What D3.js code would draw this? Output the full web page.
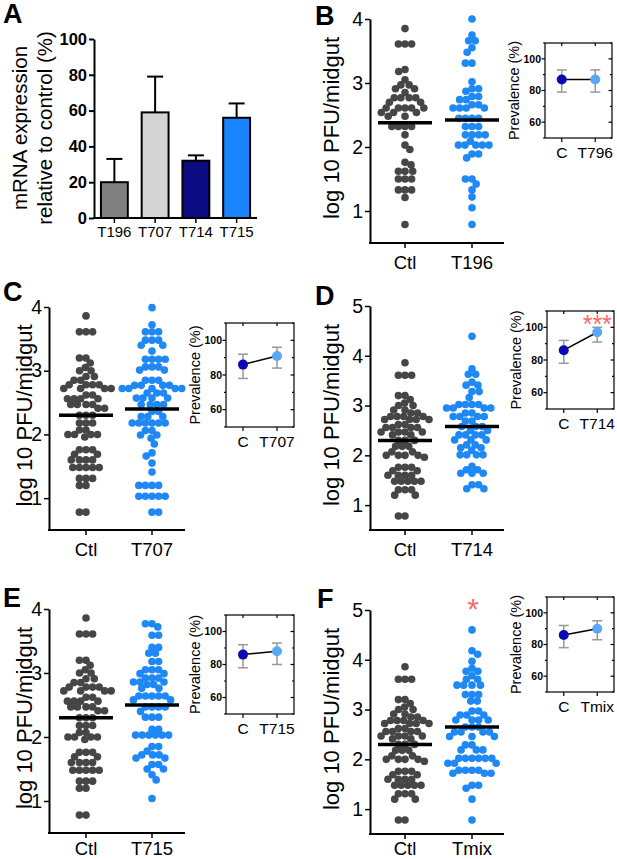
<!DOCTYPE html>
<html>
<head>
<meta charset="utf-8">
<script src="https://cdn.jsdelivr.net/npm/d3@7"></script>
<style>
body { margin: 0; background: #fff; }
svg { display: block; font-family: "Liberation Sans", Arial, sans-serif; }
</style>
</head>
<body>
<script>
// ---- panel A: knockdown ----
const bar_genes = ["T196", "T707", "T714", "T715"];
const bar_values = [20, 59, 32, 56];
const bar_sem = [13, 20, 3, 8];
const bar_colors = ["#808080", "#d4d4d4", "#0b0b84", "#1a84ff"];
const bar_ticks = [0, 20, 40, 60, 80, 100];

// ---- scatter data (log10 PFU / midgut) ----
const ctl_b = [3.85, 3.61, 3.61, 3.61, 3.21, 3.18, 3.05, 2.97, 2.97, 2.91, 2.91, 2.85,
  2.77, 2.77, 2.77, 2.77, 2.70, 2.70, 2.61, 2.61, 2.61, 2.61, 2.61, 2.54, 2.54, 2.54,
  2.48, 2.48, 2.32, 2.32, 2.32, 2.32, 2.19, 2.03, 1.96, 1.76, 1.72, 1.62, 1.62, 1.62,
  1.50, 1.50, 1.50, 1.33, 1.33, 1.33, 1.21, 0.79];
const t196 = [4.00, 3.75, 3.66, 3.66, 3.55, 3.48, 3.31, 3.31, 3.02, 2.91, 2.91, 2.87,
  2.79, 2.79, 2.74, 2.74, 2.66, 2.66, 2.61, 2.61, 2.61, 2.61, 2.45, 2.45, 2.45, 2.45,
  2.32, 2.32, 2.32, 2.19, 2.19, 2.19, 2.19, 2.09, 2.03, 2.03, 2.03, 2.03, 2.03,
  1.89, 1.89, 1.83, 1.50, 1.50, 1.42, 1.33, 1.22, 1.05, 0.79];
// same control group is used in C-F
const ctl_all = [3.86, 3.61, 3.61, 3.61, 3.20, 3.20, 3.12, 3.05, 3.00, 3.00, 2.91, 2.91,
  2.85, 2.85, 2.78, 2.78, 2.78, 2.78, 2.72, 2.72, 2.72, 2.72, 2.62, 2.62,
  2.56, 2.56, 2.56, 2.56, 2.47, 2.47, 2.47, 2.47, 2.41, 2.41, 2.30, 2.30, 2.30,
  2.18, 2.18, 2.18, 2.07, 2.07, 2.00, 2.00, 2.00, 2.00, 1.96, 1.76, 1.76, 1.76,
  1.69, 1.69, 1.60, 1.60, 1.60, 1.60, 1.48, 1.48, 1.48, 1.48, 1.48,
  1.31, 1.31, 1.31, 1.20, 1.20, 0.78, 0.78];
const t707 = [3.99, 3.72, 3.61, 3.61, 3.61, 3.48, 3.48, 3.48, 3.40, 3.40, 3.31,
  3.18, 3.18, 3.18, 3.18, 3.06, 3.06, 3.06, 3.01, 3.01, 2.85, 2.85, 2.85,
  2.77, 2.77, 2.77, 2.77, 2.72, 2.72, 2.72, 2.72, 2.72, 2.65, 2.65, 2.65,
  2.57, 2.57, 2.57, 2.57, 2.47, 2.47, 2.47, 2.47, 2.36, 2.36, 2.28, 2.28, 2.28,
  2.18, 2.18, 2.18, 2.18, 2.18, 2.18, 2.06, 2.06, 1.99, 1.99, 1.94, 1.85, 1.71, 1.66,
  1.55, 1.41, 1.20, 1.20, 1.20, 1.20, 1.03, 1.03, 1.03, 1.03, 1.03, 0.78, 0.78];
const t714 = [4.39, 3.74, 3.63, 3.63, 3.47, 3.41, 3.41, 3.28, 3.28, 3.16,
  3.02, 3.02, 3.02, 3.02, 2.95, 2.95, 2.95, 2.95, 2.85, 2.85, 2.78, 2.78, 2.78, 2.78,
  2.69, 2.69, 2.58, 2.58, 2.58, 2.50, 2.50, 2.41, 2.41, 2.41, 2.41, 2.31, 2.31, 2.31,
  2.21, 2.21, 2.15, 2.15, 2.10, 2.01, 2.01, 2.01, 2.01, 1.78, 1.71, 1.71,
  1.64, 1.64, 1.64, 1.41, 1.41, 1.33, 1.33];
const t715 = [3.77, 3.77, 3.72, 3.59, 3.59, 3.40, 3.40, 3.31, 3.31, 3.18, 3.18,
  3.05, 3.05, 3.05, 2.99, 2.99, 2.92, 2.92, 2.92, 2.86, 2.86, 2.86, 2.82, 2.82,
  2.76, 2.76, 2.64, 2.64, 2.64, 2.64, 2.64, 2.58, 2.58, 2.47, 2.47, 2.47, 2.47, 2.40,
  2.31, 2.31, 2.31, 2.12, 2.12, 2.03, 2.03, 2.03, 2.03, 2.03, 2.03, 1.85, 1.85, 1.78,
  1.72, 1.72, 1.72, 1.67, 1.67, 1.57, 1.57, 1.50, 1.50, 1.41, 1.33, 1.04];
const tmix = [4.60, 4.18, 4.11, 3.97, 3.83, 3.77, 3.77, 3.68, 3.61, 3.61,
  3.49, 3.49, 3.49, 3.49, 3.30, 3.30, 3.30, 3.17, 3.17, 2.97, 2.97, 2.89, 2.89, 2.89,
  2.79, 2.79, 2.79, 2.79, 2.65, 2.65, 2.65, 2.55, 2.55, 2.55, 2.55, 2.46, 2.46, 2.46,
  2.29, 2.29, 2.19, 2.19, 2.19, 2.02, 2.02, 2.02, 2.02, 2.02, 2.02, 1.92, 1.92, 1.92,
  1.78, 1.78, 1.78, 1.78, 1.72, 1.72, 1.72, 1.48, 1.48, 1.42, 1.20, 0.78];

// horizontal lines drawn in each scatter [ctl, treated]
const medians_b = [2.38, 2.42];
const medians_c = [2.30, 2.40];
const medians_d = [2.30, 2.58];
const medians_e = [2.30, 2.50];
const medians_f = [2.30, 2.65];

// prevalence insets [C, treated] in %
const prev_b = [87, 87], prev_lo_b = [79, 79], prev_hi_b = [93, 93];
const prev_c = [86, 91], prev_lo_c = [78, 84], prev_hi_c = [92, 96];
const prev_d = [86, 97], prev_lo_d = [78, 91], prev_hi_d = [92, 100];
const prev_e = [86, 88], prev_lo_e = [78, 80], prev_hi_e = [92, 93];
const prev_f = [86, 90], prev_lo_f = [78, 83], prev_hi_f = [92, 95];

const c_ctl = "#464646", c_trt = "#1e88f5";
const c_prev = ["#0a0ab4", "#5aa8f5"];
const c_star = "#f26b6b";

const svg = d3.select("body").append("svg")
    .attr("width", 617)
    .attr("height", 859);

function letter(t, x, y) {
    svg.append("text").attr("x", x).attr("y", y)
        .attr("font-size", 27).attr("font-weight", "bold").text(t);
}

// ---------------- A ----------------
function drawBars() {
    const x = d3.scaleBand().domain(bar_genes).range([94, 257])
        .paddingInner(0.34).paddingOuter(0.17);
    const y = d3.scaleLinear().domain([0, 100]).range([218, 39]);
    const g = svg.append("g");

    // error bars first (only upward)
    g.selectAll(".err").data(bar_genes).enter().append("g").each(function(d, i) {
        const cx = x(d) + x.bandwidth() / 2;
        const top = y(bar_values[i] + bar_sem[i]);
        d3.select(this).append("line").attr("x1", cx).attr("x2", cx)
            .attr("y1", y(bar_values[i])).attr("y2", top)
            .attr("stroke", "#000").attr("stroke-width", 2);
        d3.select(this).append("line").attr("x1", cx - 8).attr("x2", cx + 8)
            .attr("y1", top).attr("y2", top)
            .attr("stroke", "#000").attr("stroke-width", 2);
    });

    g.selectAll(".bar").data(bar_values).enter().append("rect")
        .attr("x", (d, i) => x(bar_genes[i]))
        .attr("y", d => y(d))
        .attr("width", x.bandwidth())
        .attr("height", d => y(0) - y(d))
        .attr("fill", (d, i) => bar_colors[i])
        .attr("stroke", "#000").attr("stroke-width", 2);

    const ya = g.append("g").attr("transform", "translate(94,0)")
        .call(d3.axisLeft(y).tickValues(bar_ticks).tickSize(5).tickSizeOuter(0).tickPadding(2));
    ya.select(".domain").attr("stroke-width", 2);
    ya.selectAll(".tick line").attr("stroke-width", 2);
    ya.selectAll("text").attr("font-size", 16.5).attr("font-weight", "bold")
        .attr("fill", "#000").attr("font-family", "Liberation Sans, Arial, sans-serif");

    g.append("line").attr("x1", 93).attr("x2", 257).attr("y1", 218).attr("y2", 218)
        .attr("stroke", "#000").attr("stroke-width", 2);
    bar_genes.forEach(function(d) {
        const cx = x(d) + x.bandwidth() / 2;
        g.append("line").attr("x1", cx).attr("x2", cx).attr("y1", 218).attr("y2", 223)
            .attr("stroke", "#000").attr("stroke-width", 1.5);
        g.append("text").attr("x", cx).attr("y", 237).attr("text-anchor", "middle")
            .attr("font-size", 15).text(d);
    });

    const lab = g.append("text").attr("transform", "translate(27,128) rotate(-90)")
        .attr("text-anchor", "middle").attr("font-size", 20.5);
    lab.append("tspan").attr("x", 0).attr("y", 0).text("mRNA expression");
    lab.append("tspan").attr("x", 0).attr("y", 25).text("relative to control (%)");
}

// simple beeswarm: place each dot as close to centre as possible
function swarm(vals, y, d) {
    const pts = vals.map(v => ({v: v, y: y(v), x: 0})).sort((a, b) => b.v - a.v);
    const placed = [];
    pts.forEach(function(p, k) {
        const cands = [0];
        placed.forEach(function(q) {
            const dy = Math.abs(q.y - p.y);
            if (dy < d) {
                const dx = Math.sqrt(d * d - dy * dy);
                cands.push(q.x + dx, q.x - dx);
            }
        });
        cands.sort((a, b) => (Math.abs(a) - Math.abs(b)) || (k % 2 ? a - b : b - a));
        for (const c of cands) {
            if (placed.every(q => (q.x - c) * (q.x - c) + (q.y - p.y) * (q.y - p.y) >= d * d - 0.01)) {
                p.x = c;
                break;
            }
        }
        placed.push(p);
    });
    return placed;
}

function drawScatter(p) {
    const g = svg.append("g");
    const y = d3.scaleLinear().domain([0.5, p.ymax]).range([p.bottom, p.top]);
    const x = d3.scalePoint().domain(p.groups).range(p.cx);

    [p.ctl, p.trt].forEach(function(vals, i) {
        const pts = swarm(vals, y, 6.6);
        g.selectAll(null).data(pts).enter().append("circle")
            .attr("cx", d => x(p.groups[i]) + d.x)
            .attr("cy", d => d.y)
            .attr("r", 3.8)
            .attr("fill", i == 0 ? c_ctl : c_trt);
    });

    g.selectAll(".med").data(p.med).enter().append("line")
        .attr("x1", (d, i) => x(p.groups[i]) - 27)
        .attr("x2", (d, i) => x(p.groups[i]) + 27)
        .attr("y1", d => y(d)).attr("y2", d => y(d))
        .attr("stroke", "#000").attr("stroke-width", 3.5);

    const ya = g.append("g").attr("transform", `translate(${p.axisX},0)`)
        .call(d3.axisLeft(y).tickValues(d3.range(1, p.ymax + 1)).tickFormat(d3.format("d"))
            .tickSize(5).tickSizeOuter(0).tickPadding(2));
    ya.select(".domain").attr("stroke-width", 2);
    ya.selectAll(".tick line").attr("stroke-width", 1.5);
    ya.selectAll("text").attr("font-size", 19.5).attr("fill", "#000")
        .attr("font-family", "Liberation Sans, Arial, sans-serif");

    g.append("line").attr("x1", p.axisX - 1).attr("x2", p.xEnd)
        .attr("y1", p.bottom).attr("y2", p.bottom)
        .attr("stroke", "#000").attr("stroke-width", 2);
    p.groups.forEach(function(d) {
        g.append("line").attr("x1", x(d)).attr("x2", x(d))
            .attr("y1", p.bottom).attr("y2", p.bottom + 5)
            .attr("stroke", "#000").attr("stroke-width", 1.5);
        g.append("text").attr("x", x(d)).attr("y", p.labY || p.bottom + 26)
            .attr("text-anchor", "middle").attr("font-size", 18.5).text(d);
    });

    g.append("text")
        .attr("transform", `translate(${p.labX},${(p.top + p.bottom) / 2 - 3}) rotate(-90)`)
        .attr("text-anchor", "middle").attr("font-size", 22)
        .text("log 10 PFU/midgut");

    if (p.star) {
        g.append("text").attr("x", x(p.groups[1]) + 1).attr("y", p.top + 9)
            .attr("text-anchor", "middle").attr("font-size", 30)
            .attr("fill", c_star).text(p.star);
    }
}

function drawInset(p) {
    const g = svg.append("g");
    const y = d3.scaleLinear().domain([50, 110]).range([p.y1, p.y0]);
    const x = d3.scalePoint().domain(["C", p.name]).range([p.x0, p.x1]).padding(0.5);
    const names = ["C", p.name];

    g.append("rect").attr("x", p.x0).attr("y", p.y0)
        .attr("width", p.x1 - p.x0).attr("height", p.y1 - p.y0)
        .attr("fill", "none").attr("stroke", "#000").attr("stroke-width", 1.2);

    [50, 60, 70, 80, 90, 100, 110].forEach(function(v) {
        const len = v % 20 == 0 ? 3.5 : 2;
        g.append("line").attr("x1", p.x0 - len).attr("x2", p.x0)
            .attr("y1", y(v)).attr("y2", y(v)).attr("stroke", "#000").attr("stroke-width", 1.2);
        g.append("line").attr("x1", p.x1 - len).attr("x2", p.x1)
            .attr("y1", y(v)).attr("y2", y(v)).attr("stroke", "#000").attr("stroke-width", 1.2);
    });
    [60, 80, 100].forEach(function(v) {
        g.append("text").attr("x", p.x0 - 4).attr("y", y(v)).attr("dy", "0.35em")
            .attr("text-anchor", "end").attr("font-size", 10.5).attr("font-weight", "bold")
            .text(v);
    });
    names.forEach(function(d) {
        g.append("line").attr("x1", x(d)).attr("x2", x(d)).attr("y1", p.y1).attr("y2", p.y1 + 4)
            .attr("stroke", "#000").attr("stroke-width", 1.2);
        g.append("line").attr("x1", x(d)).attr("x2", x(d)).attr("y1", p.y0).attr("y2", p.y0 + 3)
            .attr("stroke", "#000").attr("stroke-width", 1.2);
        g.append("text").attr("x", x(d)).attr("y", p.y1 + 20).attr("text-anchor", "middle")
            .attr("font-size", 15.5).text(d);
    });

    // error bars
    names.forEach(function(d, i) {
        const cx = x(d);
        g.append("line").attr("x1", cx).attr("x2", cx)
            .attr("y1", y(p.lo[i])).attr("y2", y(p.hi[i]))
            .attr("stroke", "#999").attr("stroke-width", 1.5);
        [p.lo[i], p.hi[i]].forEach(function(v) {
            g.append("line").attr("x1", cx - 5).attr("x2", cx + 5)
                .attr("y1", y(v)).attr("y2", y(v))
                .attr("stroke", "#999").attr("stroke-width", 1.5);
        });
    });

    g.append("line").attr("x1", x("C")).attr("x2", x(p.name))
        .attr("y1", y(p.val[0])).attr("y2", y(p.val[1]))
        .attr("stroke", "#000").attr("stroke-width", 1.5);

    g.selectAll(".pt").data(p.val).enter().append("circle")
        .attr("cx", (d, i) => x(names[i]))
        .attr("cy", d => y(d))
        .attr("r", 5)
        .attr("fill", (d, i) => c_prev[i]);

    g.append("text")
        .attr("transform", `translate(${p.x0 - 26},${(p.y0 + p.y1) / 2}) rotate(-90)`)
        .attr("text-anchor", "middle").attr("font-size", 14.5)
        .text("Prevalence (%)");

    if (p.star) {
        g.append("text").attr("x", x(p.name)).attr("y", p.y0 + 22)
            .attr("text-anchor", "middle").attr("font-size", 25)
            .attr("fill", c_star).text(p.star);
    }
}

drawBars();

drawScatter({groups: ["Ctl", "T196"], ctl: ctl_b, trt: t196, med: medians_b, ymax: 4,
    top: 19, bottom: 243, axisX: 370, xEnd: 504, cx: [405, 472], labX: 339});
drawScatter({groups: ["Ctl", "T707"], ctl: ctl_all, trt: t707, med: medians_c, ymax: 4,
    top: 307, bottom: 530, axisX: 49, xEnd: 185, cx: [86, 152], labX: 32});
drawScatter({groups: ["Ctl", "T714"], ctl: ctl_all, trt: t714, med: medians_d, ymax: 5,
    top: 306, bottom: 530, axisX: 370, xEnd: 504, cx: [405, 472], labX: 339});
drawScatter({groups: ["Ctl", "T715"], ctl: ctl_all, trt: t715, med: medians_e, ymax: 4,
    top: 609, bottom: 833, axisX: 49, xEnd: 185, cx: [86, 152], labX: 32, labY: 855});
drawScatter({groups: ["Ctl", "Tmix"], ctl: ctl_all, trt: tmix, med: medians_f, ymax: 5,
    top: 610, bottom: 834, axisX: 370, xEnd: 504, cx: [405, 472], labX: 339, labY: 855, star: "*"});

drawInset({name: "T796", val: prev_b, lo: prev_lo_b, hi: prev_hi_b, x0: 545, x1: 612, y0: 43, y1: 138});
drawInset({name: "T707", val: prev_c, lo: prev_lo_c, hi: prev_hi_c, x0: 226, x1: 294, y0: 323, y1: 427});
drawInset({name: "T714", val: prev_d, lo: prev_lo_d, hi: prev_hi_d, x0: 547, x1: 614, y0: 311, y1: 409, star: "***"});
drawInset({name: "T715", val: prev_e, lo: prev_lo_e, hi: prev_hi_e, x0: 226, x1: 294, y0: 615, y1: 714});
drawInset({name: "Tmix", val: prev_f, lo: prev_lo_f, hi: prev_hi_f, x0: 547, x1: 614, y0: 597, y1: 692});

letter("A", 3, 23);
letter("B", 315, 25);
letter("C", 3, 301);
letter("D", 315, 305);
letter("E", 3, 607);
letter("F", 317, 608);
</script>
</body>
</html>
